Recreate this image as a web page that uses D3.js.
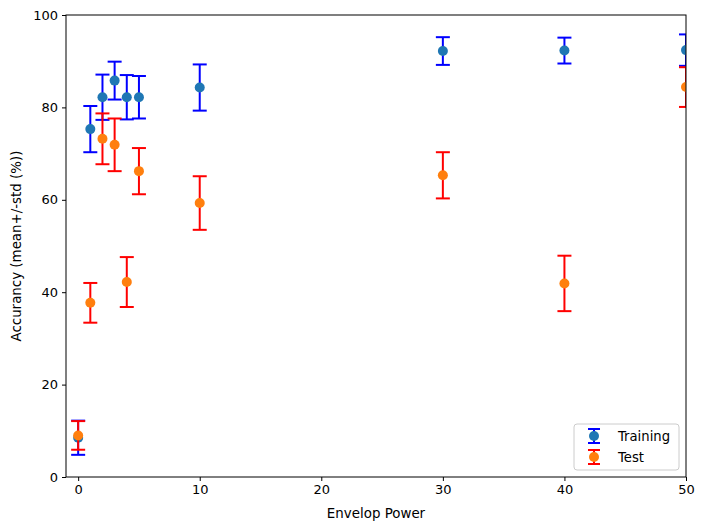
<!DOCTYPE html>
<html>
<head>
<meta charset="utf-8">
<script src="https://cdn.jsdelivr.net/npm/d3@7"></script>
<style>
  body { margin: 0; background: #fff; }
  text { font-family: "DejaVu Sans", sans-serif; }
</style>
</head>
<body>
<svg id="chart" width="704" height="530"></svg>
<script>
const powers = [0, 1, 2, 3, 4, 5, 10, 30, 40, 50];
const trainMean = [8.5, 75.3, 82.2, 85.8, 82.2, 82.2, 84.3, 92.2, 92.3, 92.4];
const trainStd  = [3.7, 5.0, 4.9, 4.1, 4.8, 4.6, 5.0, 3.0, 2.8, 3.4];
const testMean  = [9.0, 37.7, 73.2, 71.9, 42.2, 66.2, 59.3, 65.3, 41.9, 84.4];
const testStd   = [3.1, 4.3, 5.5, 5.7, 5.4, 5.0, 5.8, 5.0, 6.0, 4.3];
const xTicks = [0, 10, 20, 30, 40, 50];
const yTicks = [0, 20, 40, 60, 80, 100];

const svg = d3.select("#chart");
const m = {left: 66, right: 686, top: 15, bottom: 477};
const x = d3.scaleLinear().domain([-1, 50]).range([m.left, m.right]);
const y = d3.scaleLinear().domain([0, 100]).range([m.bottom, m.top]);

svg.append("defs").append("clipPath").attr("id", "clip")
  .append("rect").attr("x", m.left).attr("y", m.top)
  .attr("width", m.right - m.left).attr("height", m.bottom - m.top);

const plot = svg.append("g").attr("clip-path", "url(#clip)");

const series = [
  {name: "Training", mean: trainMean, std: trainStd, ecolor: "#0000ff", color: "#1f77b4"},
  {name: "Test", mean: testMean, std: testStd, ecolor: "#ff0000", color: "#ff7f0e"}
];
const cap = 7;
series.forEach(s => {
  const g = plot.append("g");
  const data = powers.map((p, i) => ({p, m: s.mean[i], sd: s.std[i]}));
  g.selectAll("line.bar").data(data).join("line")
    .attr("x1", d => x(d.p)).attr("x2", d => x(d.p))
    .attr("y1", d => y(d.m - d.sd)).attr("y2", d => y(d.m + d.sd))
    .attr("stroke", s.ecolor).attr("stroke-width", 2);
  g.selectAll("line.capt").data(data).join("line")
    .attr("x1", d => x(d.p) - cap).attr("x2", d => x(d.p) + cap)
    .attr("y1", d => y(d.m + d.sd)).attr("y2", d => y(d.m + d.sd))
    .attr("stroke", s.ecolor).attr("stroke-width", 2);
  g.selectAll("line.capb").data(data).join("line")
    .attr("x1", d => x(d.p) - cap).attr("x2", d => x(d.p) + cap)
    .attr("y1", d => y(d.m - d.sd)).attr("y2", d => y(d.m - d.sd))
    .attr("stroke", s.ecolor).attr("stroke-width", 2);
  g.selectAll("circle").data(data).join("circle")
    .attr("cx", d => x(d.p)).attr("cy", d => y(d.m)).attr("r", 5)
    .attr("fill", s.color);
});

// axes
const xAxis = svg.append("g").attr("transform", `translate(0,${m.bottom})`)
  .call(d3.axisBottom(x).tickValues(xTicks).tickSize(4).tickPadding(4));
const yAxis = svg.append("g").attr("transform", `translate(${m.left},0)`)
  .call(d3.axisLeft(y).tickValues(yTicks).tickSize(4).tickPadding(4));
[xAxis, yAxis].forEach(a => {
  a.selectAll("text").attr("font-size", "13px").attr("fill", "#000")
    .attr("font-family", "DejaVu Sans, sans-serif");
  a.selectAll("line").attr("stroke", "#000");
  a.select(".domain").remove();
});
// frame
svg.append("rect").attr("x", m.left).attr("y", m.top)
  .attr("width", m.right - m.left).attr("height", m.bottom - m.top)
  .attr("fill", "none").attr("stroke", "#000").attr("stroke-width", 1);

svg.append("text").attr("x", (m.left + m.right) / 2).attr("y", 518)
  .attr("text-anchor", "middle").attr("font-size", "13.4px").text("Envelop Power");
svg.append("text").attr("transform", `translate(21,${(m.top + m.bottom) / 2}) rotate(-90)`)
  .attr("text-anchor", "middle").attr("font-size", "13.4px").text("Accurancy (mean+/-std (%))");

// legend
const lg = svg.append("g").attr("transform", "translate(574,424)");
lg.append("rect").attr("width", 105).attr("height", 46).attr("rx", 3)
  .attr("fill", "#fff").attr("fill-opacity", 0.8).attr("stroke", "#ccc");
series.forEach((s, i) => {
  const cy = 12 + i * 21;
  const cx = 20;
  lg.append("line").attr("x1", cx).attr("x2", cx).attr("y1", cy - 7).attr("y2", cy + 7)
    .attr("stroke", s.ecolor).attr("stroke-width", 2);
  lg.append("line").attr("x1", cx - 6).attr("x2", cx + 6).attr("y1", cy - 7).attr("y2", cy - 7)
    .attr("stroke", s.ecolor).attr("stroke-width", 2);
  lg.append("line").attr("x1", cx - 6).attr("x2", cx + 6).attr("y1", cy + 7).attr("y2", cy + 7)
    .attr("stroke", s.ecolor).attr("stroke-width", 2);
  lg.append("circle").attr("cx", cx).attr("cy", cy).attr("r", 5).attr("fill", s.color);
  lg.append("text").attr("x", 44).attr("y", cy + 4.5).attr("font-size", "13.2px").text(s.name);
});
</script>
</body>
</html>
